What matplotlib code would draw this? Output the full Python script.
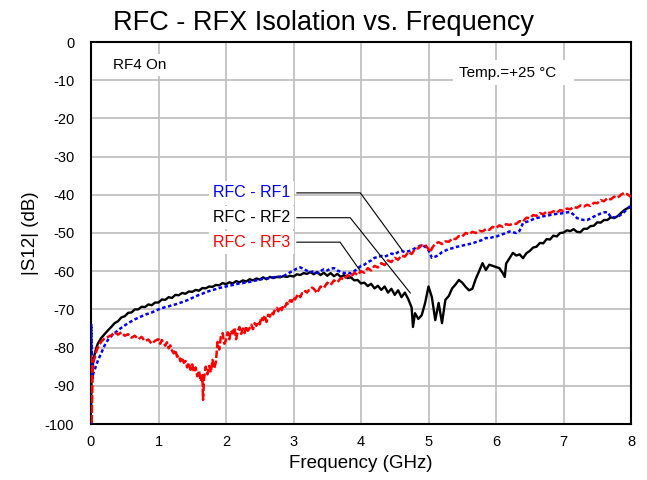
import matplotlib
matplotlib.use('Agg')
import matplotlib.pyplot as plt

# RFC - RF1 (blue)
f_rf1 = [0.0, 0.005, 0.01, 0.02, 0.03, 0.05, 0.07, 0.1, 0.15, 0.2, 0.25, 0.3, 0.35, 0.4, 0.45,
         0.5, 0.55, 0.6, 0.65, 0.7, 0.75, 0.8, 0.85, 0.9, 0.95, 1.0, 1.05, 1.1, 1.15, 1.2,
         1.25, 1.3, 1.35, 1.4, 1.45, 1.5, 1.55, 1.6, 1.65, 1.7, 1.75, 1.8, 1.85, 1.9, 1.95,
         2.0, 2.05, 2.1, 2.15, 2.2, 2.25, 2.3, 2.35, 2.4, 2.45, 2.5, 2.55, 2.6, 2.65, 2.7,
         2.75, 2.8, 2.85, 2.9, 2.95, 3.0, 3.05, 3.1, 3.15, 3.2, 3.25, 3.3, 3.35, 3.4, 3.45,
         3.5, 3.55, 3.6, 3.65, 3.7, 3.75, 3.8, 3.85, 3.9, 3.95, 4.0, 4.05, 4.1, 4.15, 4.2,
         4.25, 4.3, 4.35, 4.4, 4.45, 4.5, 4.55, 4.6, 4.65, 4.7, 4.75, 4.8, 4.85, 4.9, 4.95,
         5.0, 5.05, 5.1, 5.15, 5.2, 5.25, 5.3, 5.35, 5.4, 5.45, 5.5, 5.55, 5.6, 5.65, 5.7,
         5.75, 5.8, 5.85, 5.9, 5.95, 6.0, 6.05, 6.1, 6.15, 6.2, 6.25, 6.3, 6.35, 6.4, 6.45,
         6.5, 6.55, 6.6, 6.65, 6.7, 6.75, 6.8, 6.85, 6.9, 6.95, 7.0, 7.05, 7.1, 7.15, 7.2,
         7.25, 7.3, 7.35, 7.4, 7.45, 7.5, 7.55, 7.6, 7.65, 7.7, 7.75, 7.8, 7.85, 7.9, 7.95, 8.0]
s_rf1 = [-100, -74, -80, -88, -87, -86, -85, -83.5, -81.5, -79.5, -78, -77, -76.2, -75.5, -74.8,
         -74.2, -73.6, -73.1, -72.6, -72.2, -71.8, -71.4, -71.1, -70.8, -70.4, -70.0, -69.7, -69.4, -69.2, -68.9,
         -68.7, -68.4, -68.1, -67.8, -67.4, -67.0, -66.6, -66.2, -65.9, -65.5, -65.2, -64.9, -64.7, -64.4, -64.2,
         -64.0, -63.8, -63.6, -63.4, -63.2, -63.1, -62.9, -62.8, -62.6, -62.4, -62.2, -62.0, -61.9, -61.8, -61.6,
         -61.5, -61.4, -61.3, -60.8, -60.3, -59.8, -59.3, -59.0, -59.4, -59.9, -60.3, -60.0, -60.5, -60.0, -59.5,
         -59.8, -59.3, -59.2, -59.8, -60.2, -60.5, -60.3, -60.6, -60.0, -59.3, -58.6, -58.3, -57.6, -57.2, -56.5,
         -56.3, -56.0, -56.2, -55.8, -55.4, -55.6, -55.0, -54.7, -55.0, -54.8, -54.5, -54.0, -53.6, -53.1, -53.6,
         -54.5, -56.5, -56.2, -55.8, -55.0, -54.6, -54.2, -54.0, -53.7, -53.5, -53.3, -53.1, -52.9, -52.7, -52.4,
         -52.1, -51.8, -51.3, -51.4, -51.1, -51.0, -50.6, -50.3, -50.0, -49.6, -49.8, -50.0, -49.4, -47.4, -47.1,
         -46.8, -46.4, -46.1, -45.9, -45.6, -45.5, -45.3, -45.1, -45.0, -44.9, -44.8, -44.6, -44.5, -45.2, -46.1,
         -46.4, -46.6, -46.6, -46.2, -45.7, -45.3, -44.9, -44.6, -44.5, -45.8, -45.9, -45.8, -45.2, -44.5, -43.6, -42.7]

# RFC - RF2 (black)
f_rf2 = [0.0, 0.01, 0.02, 0.03, 0.05, 0.08, 0.1, 0.15, 0.2, 0.25, 0.3, 0.35, 0.4, 0.45,
         0.5, 0.55, 0.6, 0.65, 0.7, 0.75, 0.8, 0.85, 0.9, 0.95, 1.0, 1.05, 1.1, 1.15, 1.2,
         1.25, 1.3, 1.35, 1.4, 1.45, 1.5, 1.55, 1.6, 1.65, 1.7, 1.75, 1.8, 1.85, 1.9, 1.95,
         2.0, 2.05, 2.1, 2.15, 2.2, 2.25, 2.3, 2.35, 2.4, 2.45, 2.5, 2.55, 2.6, 2.65, 2.7,
         2.75, 2.8, 2.85, 2.9, 2.95, 3.0, 3.05, 3.1, 3.15, 3.2, 3.25, 3.3, 3.35, 3.4, 3.45,
         3.5, 3.55, 3.6, 3.65, 3.7, 3.75, 3.8, 3.85, 3.9, 3.95, 4.0, 4.05, 4.1, 4.15, 4.2,
         4.25, 4.3, 4.35, 4.4, 4.45, 4.5, 4.55, 4.6, 4.65, 4.7, 4.75, 4.77, 4.8, 4.85, 4.9,
         4.95, 5.0, 5.05, 5.1, 5.15, 5.2, 5.25, 5.3, 5.35, 5.4, 5.45, 5.5, 5.55, 5.6, 5.65,
         5.7, 5.75, 5.8, 5.85, 5.9, 5.95, 6.0, 6.05, 6.1, 6.13, 6.15, 6.2, 6.25, 6.3, 6.35,
         6.4, 6.45, 6.5, 6.55, 6.6, 6.65, 6.7, 6.75, 6.8, 6.85, 6.9, 6.95, 7.0, 7.05, 7.1,
         7.15, 7.2, 7.25, 7.3, 7.35, 7.4, 7.45, 7.5, 7.55, 7.6, 7.65, 7.7, 7.75, 7.8, 7.85,
         7.9, 7.95, 8.0]
s_rf2 = [-95, -86, -88, -84, -82, -80, -79, -77.5, -76.5, -75.5, -74.6, -73.6, -73.1, -72.1,
         -71.8, -70.9, -70.8, -70.0, -70.0, -69.3, -69.4, -68.7, -68.9, -68.2, -68.2, -67.4, -67.5, -66.8, -67.0,
         -66.2, -66.3, -65.7, -65.9, -65.3, -65.4, -64.9, -65.1, -64.4, -64.5, -64.0, -64.1, -63.6, -63.7, -63.1,
         -63.4, -62.9, -63.2, -62.6, -62.9, -62.4, -62.7, -62.1, -62.4, -61.9, -62.2, -61.6, -62.1, -61.5, -61.8,
         -61.5, -61.6, -61.3, -61.5, -61.2, -61.4, -60.8, -61.0, -60.5, -60.7, -60.2, -60.8, -60.2, -61.0, -60.4,
         -61.2, -60.5, -61.3, -60.7, -61.5, -61.0, -61.8, -61.6, -62.4, -62.3, -63.2, -63.0, -63.9, -63.3, -64.5,
         -63.8, -64.9, -64.0, -65.6, -64.6, -66.2, -65.0, -66.8, -65.6, -67.3, -69.5, -74.6, -71.0, -72.5, -71.5,
         -68.3, -64.0, -66.8, -72.8, -68.3, -73.6, -67.5, -66.5, -64.5, -63.5, -62.3, -63.0, -64.1, -65.0, -64.6,
         -62.0, -60.0, -57.9, -59.7, -58.3, -58.6, -58.9, -59.2, -60.5, -61.5, -58.0, -56.6, -55.2, -55.9, -55.6,
         -56.6, -55.3, -54.7, -53.8, -53.6, -52.6, -52.7, -51.6, -51.7, -50.7, -50.9, -50.0, -49.9, -49.3, -49.5,
         -49.0, -49.7, -49.8, -48.9, -48.9, -48.2, -48.1, -47.2, -47.3, -46.6, -46.6, -45.9, -46.1, -45.6, -44.8,
         -44.0, -43.5, -43.2]

# RFC - RF3 (red)
f_rf3 = [0.0, 0.01, 0.02, 0.03, 0.05, 0.07, 0.1, 0.15, 0.2, 0.25, 0.3, 0.35, 0.4, 0.45,
         0.5, 0.55, 0.6, 0.65, 0.7, 0.75, 0.8, 0.85, 0.9, 0.95,
         1.0, 1.025, 1.05, 1.075, 1.1, 1.125, 1.15, 1.175, 1.2, 1.225, 1.25, 1.275, 1.3, 1.325,
         1.35, 1.375, 1.4, 1.425, 1.45, 1.475, 1.5, 1.525, 1.55, 1.575, 1.6, 1.625, 1.65, 1.66,
         1.675, 1.7, 1.725, 1.75, 1.775, 1.8, 1.825,
         1.85, 1.875, 1.9, 1.925, 1.95, 1.975, 2.0, 2.025, 2.05, 2.075, 2.1, 2.125, 2.15, 2.175,
         2.2, 2.225, 2.25, 2.275, 2.3, 2.325, 2.35, 2.375, 2.4, 2.425, 2.45, 2.475, 2.5, 2.525,
         2.55, 2.575, 2.6, 2.625, 2.65, 2.675, 2.7, 2.725, 2.75, 2.775, 2.8, 2.825, 2.85, 2.875,
         2.9, 2.925, 2.95, 2.975, 3.0, 3.025, 3.05, 3.075, 3.1, 3.125, 3.15, 3.175, 3.2, 3.225,
         3.25, 3.275, 3.3,
         3.35, 3.4, 3.45, 3.5, 3.55, 3.6, 3.65, 3.7, 3.75, 3.8, 3.85, 3.9, 3.95, 4.0, 4.05,
         4.1, 4.15, 4.2, 4.25, 4.3, 4.35, 4.4, 4.45, 4.5, 4.55, 4.6, 4.65, 4.7, 4.75, 4.8,
         4.85, 4.9, 4.95, 5.0, 5.03, 5.05, 5.1, 5.15, 5.2, 5.25, 5.3, 5.35, 5.4, 5.45, 5.5,
         5.55, 5.6, 5.65, 5.7, 5.75, 5.8, 5.85, 5.9, 5.95, 6.0, 6.05, 6.1, 6.15, 6.2, 6.25,
         6.3, 6.35, 6.4, 6.45, 6.5, 6.55, 6.6, 6.65, 6.7, 6.75, 6.8, 6.85, 6.9, 6.95, 7.0,
         7.05, 7.1, 7.15, 7.2, 7.25, 7.3, 7.35, 7.4, 7.45, 7.5, 7.55, 7.6, 7.65, 7.7, 7.75,
         7.8, 7.85, 7.9, 7.95, 8.0]
s_rf3 = [-82, -100, -90, -84, -83, -81.5, -80, -78.5, -77.6, -77.2, -76.8, -76.0, -76.6, -76.0,
         -76.9, -76.5, -77.4, -76.9, -77.8, -77.2, -78.3, -77.9, -79.0, -78.2,
         -77.8, -79.0, -78.0, -78.8, -79.5, -78.6, -80.2, -79.4, -80.8, -81.5, -80.6, -82.4, -82.0, -83.6,
         -82.6, -84.0, -83.5, -85.2, -84.0, -85.8, -84.4, -86.5, -85.2, -87.5, -86.0, -88.8, -87.2, -93.7,
         -88.0, -85.0, -87.0, -84.8, -86.5, -83.2, -85.5,
         -83.8, -78.5, -80.5, -77.0, -76.2, -79.0, -78.0, -76.0, -77.8, -75.5, -76.3, -74.8, -77.8, -75.6,
         -74.6, -76.4, -75.0, -76.2, -74.4, -75.6, -74.9, -74.0, -75.2, -73.6, -74.3, -73.2, -73.9, -72.0,
         -72.8, -71.6, -73.3, -71.4, -71.9, -70.7, -71.3, -70.0, -69.6, -70.5, -69.2, -70.2, -68.9, -69.3,
         -68.3, -68.8, -67.6, -68.0, -66.8, -67.4, -66.5, -66.0, -66.8, -65.8, -65.9, -65.2, -65.6, -65.0,
         -64.9, -64.3, -64.6,
         -65.7, -64.0, -64.4, -63.0, -63.6, -62.4, -62.9, -61.8, -62.2, -61.0, -61.6, -60.4, -61.0, -60.0, -60.4,
         -59.2, -59.8, -58.6, -59.0, -57.9, -58.4, -57.2, -57.6, -56.5, -57.0, -55.9, -56.2, -55.0, -55.5, -54.2,
         -54.0, -53.2, -53.1, -54.2, -55.0, -54.0, -52.8, -52.4, -52.9, -52.2, -52.3, -51.5, -51.6, -50.8, -50.9,
         -50.0, -50.3, -49.7, -50.0, -49.4, -49.6, -49.0, -49.2, -48.4, -48.7, -48.0, -48.4, -47.7, -47.9, -47.6,
         -47.6, -46.9, -47.0, -46.0, -46.1, -45.3, -45.5, -44.8, -45.1, -44.4, -44.8, -44.3, -44.7, -44.0, -44.2,
         -43.6, -43.8, -43.2, -43.4, -42.8, -43.1, -42.6, -42.9, -42.1, -42.2, -41.4, -41.7, -40.9, -41.2, -40.5,
         -40.8, -40.0, -39.5, -39.9, -40.6]

labels = ['RFC - RF1', 'RFC - RF2', 'RFC - RF3']
colors = ['#0000FF', '#000000', '#FF0000']
# label y positions and where each leader line lands on its curve
label_y = [-39.5, -46.0, -52.4]
elbow_x = [3.99, 3.84, 3.69]
target = [(4.61, -54.5), (4.73, -65.7), (3.98, -59.7)]

plt.rcParams['font.family'] = ['Liberation Sans', 'DejaVu Sans']
plt.rcParams['axes.unicode_minus'] = False

fig = plt.figure(figsize=(6.47, 4.80), dpi=100)
ax = fig.add_axes([91 / 647, 1 - 424 / 480, 540 / 647, 382 / 480])

ax.plot(f_rf2, s_rf2, '-', color=colors[1], linewidth=1.7, zorder=3)
ax.plot(f_rf1, s_rf1, color=colors[0], linewidth=1.8, linestyle=(0, (1.4, 1.0)), zorder=4)
ax.plot(f_rf3, s_rf3, color=colors[2], linewidth=1.8, linestyle=(0, (3.0, 1.0)), zorder=4)

ax.set_xlim(0, 8)
ax.set_ylim(-100, 0)
ax.set_xticks(range(0, 9))
ax.set_yticks(range(-100, 1, 10))
ax.grid(True, color='#c0c0c0', linewidth=1.3)
ax.set_axisbelow(True)
ax.tick_params(length=0, labelsize=10.5)
ax.tick_params(axis='x', pad=8)
ax.tick_params(axis='y', pad=12)
for sp in ax.spines.values():
    sp.set_linewidth(1.5)
    sp.set_color('black')

fig.text(0.5, 1 - 30 / 480, 'RFC - RFX Isolation vs. Frequency', fontsize=19.5,
         ha='center', va='baseline')
ax.set_xlabel('Frequency (GHz)', fontsize=13.5, labelpad=4)
ax.set_ylabel('|S12| (dB)', fontsize=13.5, labelpad=4)

# curve labels with leader lines
for lab, c, ly, ex, (tx, ty) in zip(labels, colors, label_y, elbow_x, target):
    ax.text(2.95, ly, lab, color=c, fontsize=11.5, ha='right', va='center', zorder=5,
            bbox=dict(facecolor='white', edgecolor='none', pad=3))
    ax.plot([3.05, ex, tx], [ly, ly, ty], color='black', linewidth=0.8, zorder=5)

ax.text(0.33, -6.0, 'RF4 On', fontsize=11, ha='left', va='center',
        bbox=dict(facecolor='white', edgecolor='none', pad=3))
ax.text(5.45, -8.0, 'Temp.=+25 \u00b0C   ', fontsize=11, ha='left', va='center',
        bbox=dict(facecolor='white', edgecolor='none', pad=4))

fig.savefig('out.png', dpi=100)
